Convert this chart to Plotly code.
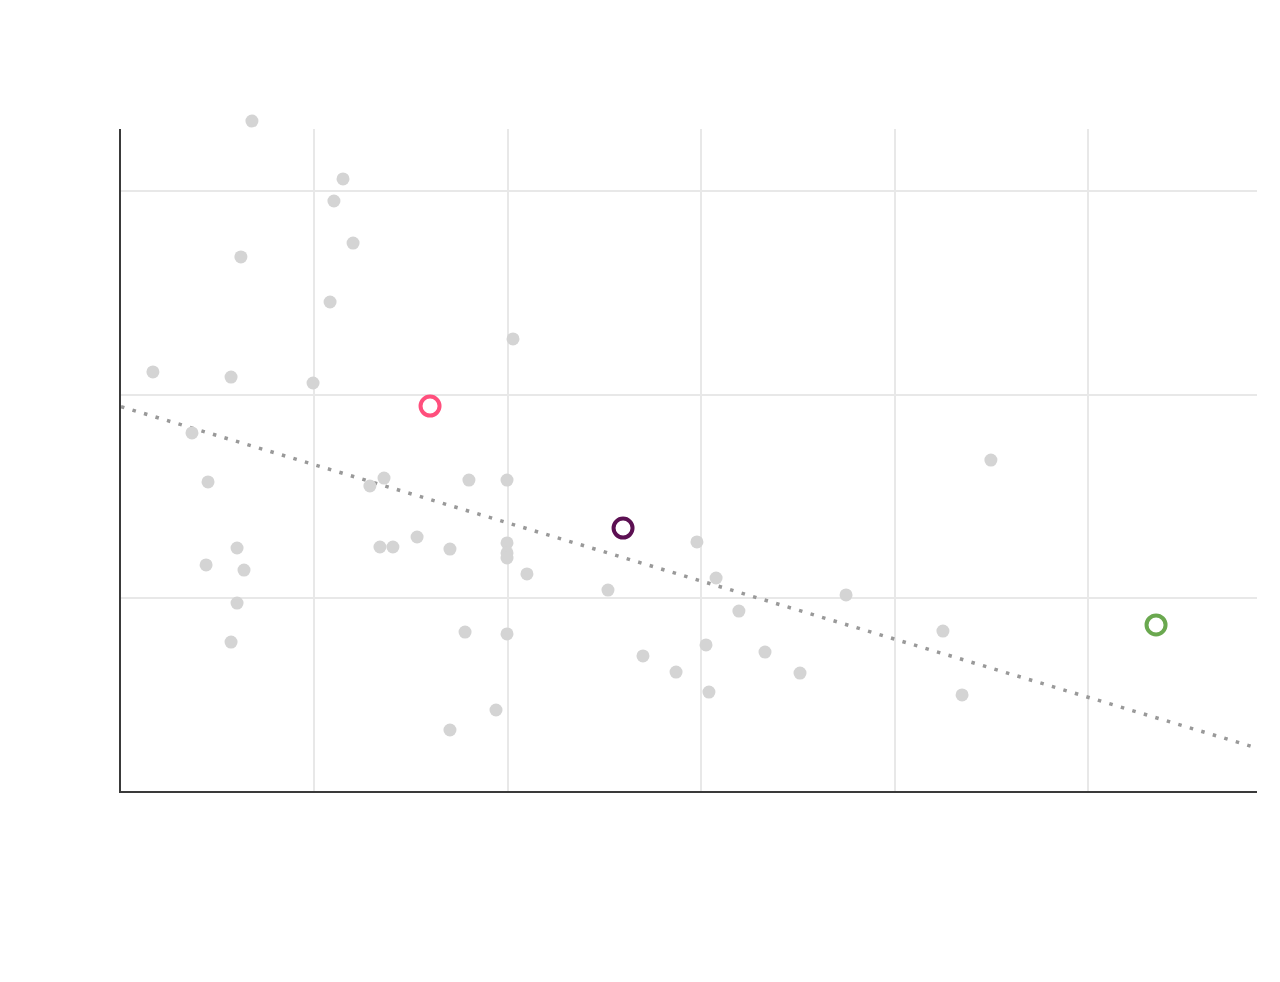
import plotly.graph_objects as go

# pixel-read data converted to data units (x: 0..58.7, y gridlines at 10,20,30)
px_x = [252,343,334,353,241,330,513,153,231,313,192,208,370,384,469,507,991,697,237,380,393,417,450,507,507,507,206,244,527,716,608,846,237,739,465,507,943,231,706,643,765,676,800,709,962,496,450]
px_y = [121,179,201,243,257,302,339,372,377,383,433,482,486,478,480,480,460,542,548,547,547,537,549,543,553,558,565,570,574,578,590,595,603,611,632,634,631,642,645,656,652,672,673,692,695,710,730]

def fx(p):
    return round((p - 121) / 19.34, 2)

def fy(p):
    return round((598 - p) / 20.4 + 10, 2)

others_x = [fx(v) for v in px_x]
others_y = [fy(v) for v in px_y]

hl_names = ["A", "B", "C"]
hl_x = [fx(430), fx(623), fx(1156)]
hl_y = [fy(406), fy(528), fy(625)]
hl_colors = ["#ff4f7d", "#5c1052", "#6aa84f"]

trend_x = [0.0, 58.74]
trend_y = [fy(406), fy(748)]

X_RANGE = [0, 58.74]
Y_RANGE = [0.54, 33.04]
Y_RANGE_EXT = [0.54, 34.46]
Y_DOMAIN_TOP = (791 - 129) / (791 - 99)

fig = go.Figure()
fig.add_trace(go.Scatter(x=trend_x, y=trend_y, mode="lines",
                         line=dict(color="#999999", width=3.5, dash="3.5px,8.5px"),
                         hoverinfo="skip", showlegend=False))
fig.add_trace(go.Scatter(x=others_x, y=others_y, mode="markers",
                         marker=dict(color="#d4d4d4", size=13),
                         showlegend=False, xaxis="x2", yaxis="y2"))
for n, x, y, c in zip(hl_names, hl_x, hl_y, hl_colors):
    fig.add_trace(go.Scatter(x=[x], y=[y], mode="markers", name=n,
                             marker=dict(color="white", size=19, line=dict(color=c, width=4)),
                             showlegend=False, xaxis="x2", yaxis="y2"))

fig.update_layout(
    width=1280, height=982,
    margin=dict(l=113, r=31, t=91, b=199),
    plot_bgcolor="rgba(0,0,0,0)", paper_bgcolor="white",
    xaxis=dict(range=X_RANGE, dtick=10, tick0=0, showgrid=True, gridcolor="#e8e8e8", gridwidth=2,
               showticklabels=False, zeroline=False, showline=True, linecolor="#3a3a3a", linewidth=2,
               ticks="", anchor="y"),
    yaxis=dict(range=Y_RANGE, domain=[0, Y_DOMAIN_TOP], dtick=10, tick0=0, showgrid=True,
               gridcolor="#e8e8e8", gridwidth=2,
               showticklabels=False, zeroline=False, showline=True, linecolor="#3a3a3a", linewidth=2,
               ticks="", anchor="x"),
    xaxis2=dict(range=X_RANGE, visible=False, showgrid=False, zeroline=False, anchor="y2"),
    yaxis2=dict(range=Y_RANGE_EXT, domain=[0, 1], visible=False, showgrid=False, zeroline=False,
                anchor="x2"),
)
fig.write_html("out.html")
